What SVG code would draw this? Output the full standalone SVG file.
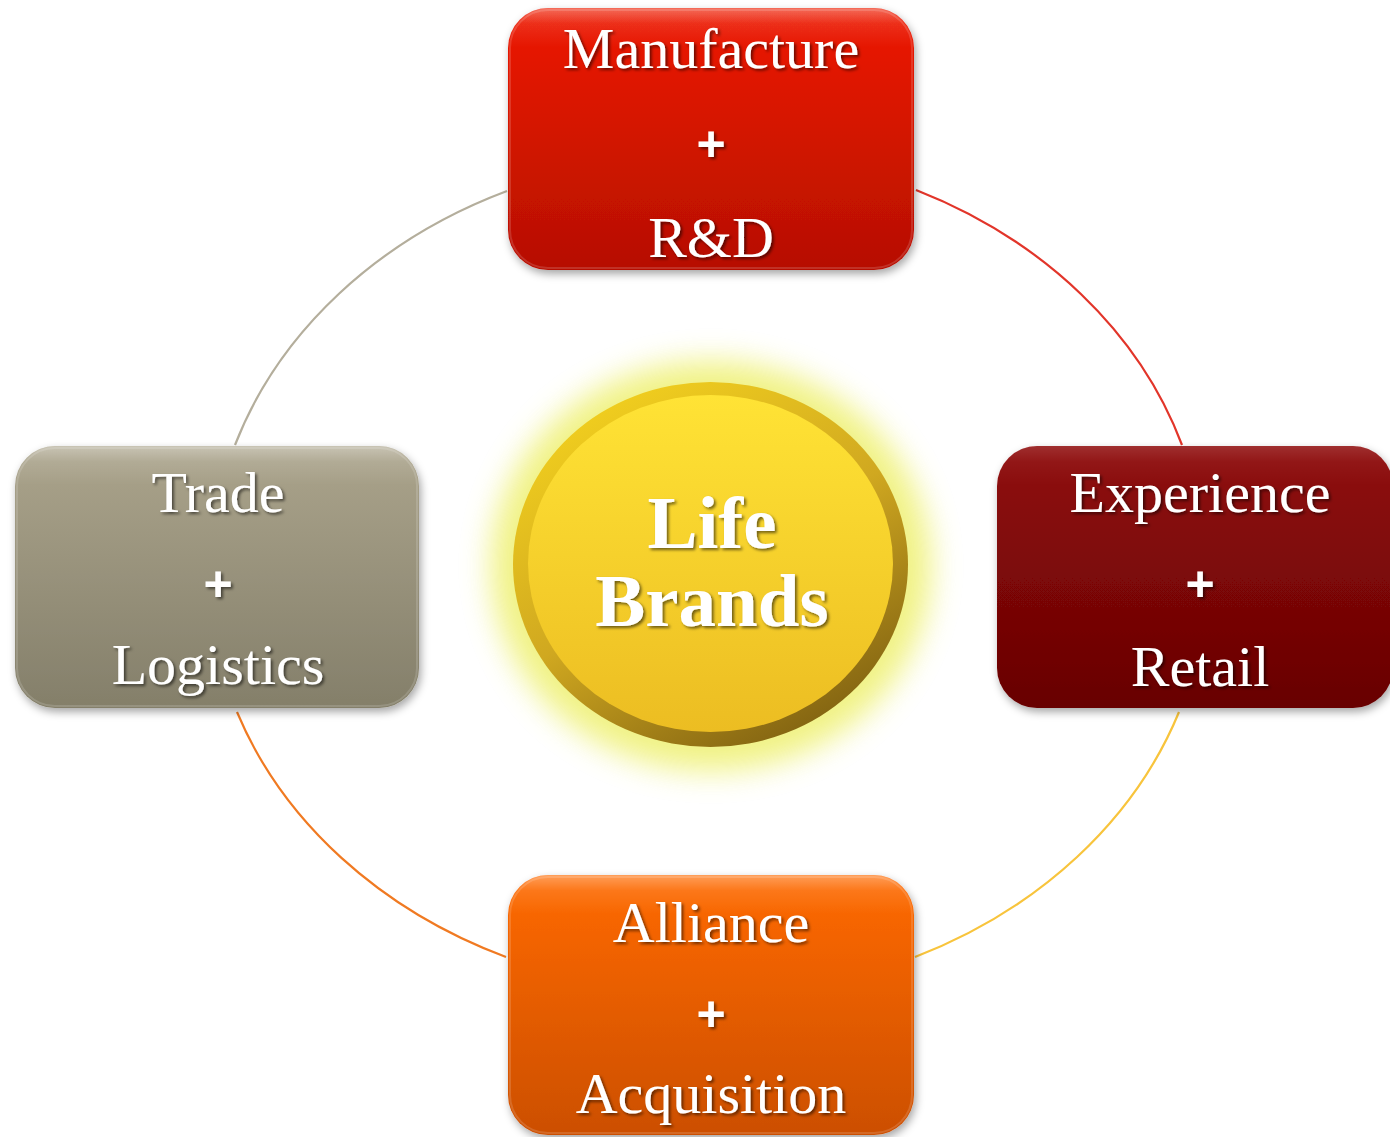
<svg xmlns="http://www.w3.org/2000/svg" width="1390" height="1137" viewBox="0 0 1390 1137">
<defs>
<linearGradient id="gRed" x1="0" y1="0" x2="0" y2="1"><stop offset="0" stop-color="#ee1a00"/><stop offset="1" stop-color="#b60f00"/></linearGradient>
<linearGradient id="gGray" x1="0" y1="0" x2="0" y2="1"><stop offset="0" stop-color="#aba48c"/><stop offset="1" stop-color="#847f6a"/></linearGradient>
<linearGradient id="gMaroon" x1="0" y1="0" x2="0" y2="1"><stop offset="0" stop-color="#900b0b"/><stop offset="1" stop-color="#680303"/></linearGradient>
<linearGradient id="gOrange" x1="0" y1="0" x2="0" y2="1"><stop offset="0" stop-color="#ff6a00"/><stop offset="1" stop-color="#cc4f00"/></linearGradient>
<linearGradient id="gShine" x1="0" y1="0" x2="0" y2="1"><stop offset="0" stop-color="#fff" stop-opacity="0.35"/><stop offset="0.06" stop-color="#fff" stop-opacity="0.1"/><stop offset="0.15" stop-color="#fff" stop-opacity="0"/></linearGradient>
<linearGradient id="gRing" x1="0.2" y1="0" x2="0.8" y2="1"><stop offset="0" stop-color="#f4d21e"/><stop offset="0.5" stop-color="#d0a820"/><stop offset="1" stop-color="#7a5c10"/></linearGradient>
<linearGradient id="gCore" x1="0" y1="0" x2="0" y2="1"><stop offset="0" stop-color="#ffe335"/><stop offset="1" stop-color="#ecbd22"/></linearGradient>
<filter id="boxShadow" x="-10%" y="-10%" width="120%" height="125%"><feDropShadow dx="2" dy="4" stdDeviation="4" flood-color="#000" flood-opacity="0.35"/></filter>
<filter id="txtShadow" x="-10%" y="-20%" width="120%" height="150%"><feDropShadow dx="2" dy="2" stdDeviation="1.5" flood-color="#000" flood-opacity="0.55"/></filter>
<filter id="glow" x="-30%" y="-30%" width="160%" height="160%"><feGaussianBlur stdDeviation="15"/></filter>
</defs>
<style>
.arc{fill:none;stroke-width:2.2}
.lbl{font-family:"Liberation Serif","Times New Roman",serif;font-size:58px;fill:#fff;text-anchor:middle;filter:url(#txtShadow)}
.plus{font-family:"Liberation Sans",Arial,sans-serif;font-size:50px;font-weight:bold;fill:#fff;text-anchor:middle;filter:url(#txtShadow)}
.ctr{font-family:"Liberation Serif","Times New Roman",serif;font-size:75px;font-weight:bold;fill:#fff;text-anchor:middle;filter:url(#txtShadow)}
.shine{fill:url(#gShine)}
.edge{fill:none;stroke:#fff;stroke-opacity:0.15;stroke-width:2}
</style>

<g id="connectors">
<path class="arc" stroke="#b4ae9c" d="M507,191 A500,421 0 0 0 235,445"/>
<path class="arc" stroke="#e2352a" d="M916,190 A500,421 0 0 1 1182,445"/>
<path class="arc" stroke="#f07a22" d="M237,712 A500,421 0 0 0 506,957"/>
<path class="arc" stroke="#f8c43c" d="M1179,712 A500,421 0 0 1 915,957"/>
</g>

<g id="center">
<ellipse cx="711" cy="566" rx="220" ry="205" fill="#eef070" opacity="0.85" filter="url(#glow)"/>
<ellipse cx="710.5" cy="564.5" rx="197.5" ry="182.5" fill="url(#gRing)"/>
<ellipse cx="710.5" cy="563.5" rx="182.5" ry="168.5" fill="url(#gCore)"/>
<text class="ctr" x="712" y="548">Life</text>
<text class="ctr" x="712" y="626">Brands</text>
</g>

<g id="manufacture">
<rect x="508" y="8" width="406" height="262" rx="40" fill="url(#gRed)" filter="url(#boxShadow)"/>
<rect x="508" y="8" width="406" height="262" rx="40" class="shine"/>
<rect x="510" y="10" width="402" height="258" rx="38" class="edge"/>
<text class="lbl" x="711" y="68">Manufacture</text>
<text class="plus" x="711" y="161">+</text>
<text class="lbl" x="711" y="257">R&amp;D</text>
</g>

<g id="trade">
<rect x="15" y="446" width="404" height="262" rx="40" fill="url(#gGray)" filter="url(#boxShadow)"/>
<rect x="15" y="446" width="404" height="262" rx="40" class="shine"/>
<rect x="17" y="448" width="400" height="258" rx="38" class="edge"/>
<text class="lbl" x="218" y="512">Trade</text>
<text class="plus" x="218" y="601">+</text>
<text class="lbl" x="218" y="684">Logistics</text>
</g>

<g id="experience">
<rect x="997" y="446" width="396" height="262" rx="40" fill="url(#gMaroon)" filter="url(#boxShadow)"/>
<rect x="997" y="446" width="396" height="262" rx="40" class="shine" opacity="0.4"/>
<text class="lbl" x="1200" y="512">Experience</text>
<text class="plus" x="1200" y="601">+</text>
<text class="lbl" x="1200" y="686">Retail</text>
</g>

<g id="alliance">
<rect x="508" y="875" width="406" height="260" rx="40" fill="url(#gOrange)" filter="url(#boxShadow)"/>
<rect x="508" y="875" width="406" height="260" rx="40" class="shine"/>
<rect x="510" y="877" width="402" height="256" rx="38" class="edge"/>
<text class="lbl" x="711" y="942">Alliance</text>
<text class="plus" x="711" y="1031">+</text>
<text class="lbl" x="711" y="1113">Acquisition</text>
</g>
</svg>
